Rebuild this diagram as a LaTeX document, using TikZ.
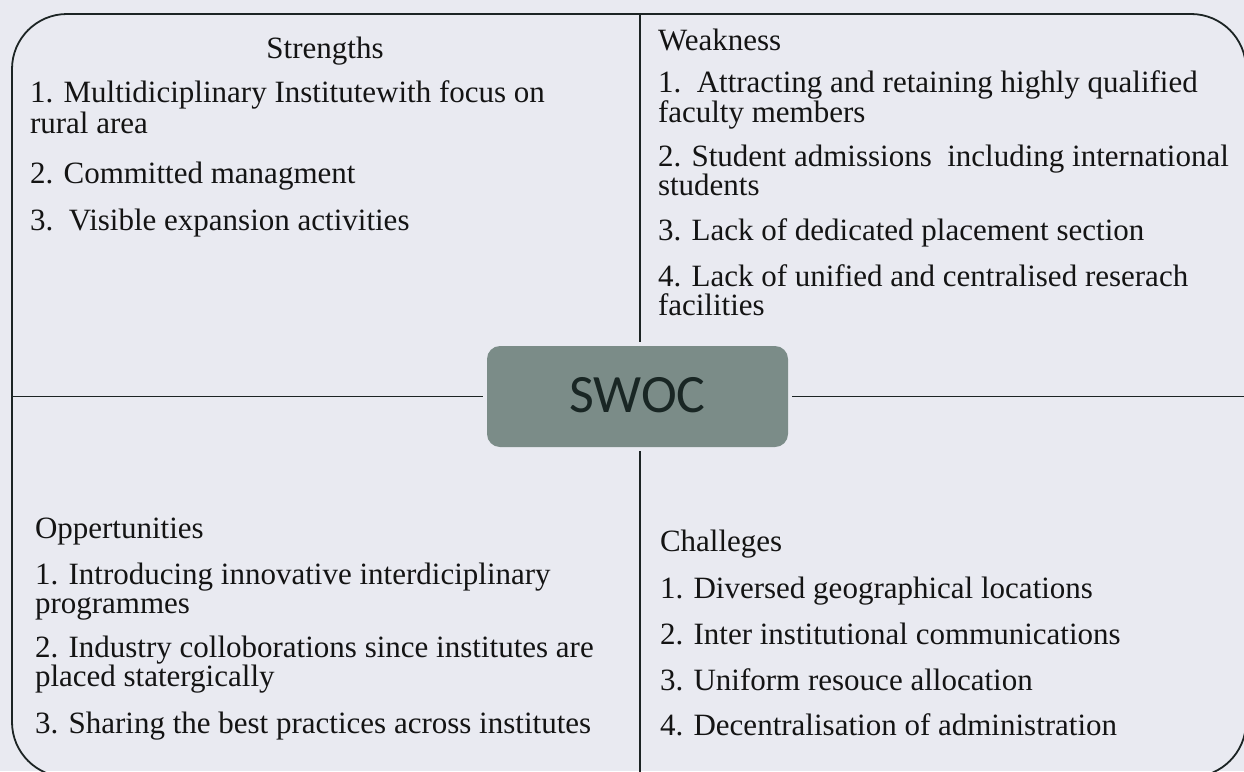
\documentclass[tikz,border=0pt]{standalone}
\usepackage{fontspec}
\setmainfont{Liberation Serif}
\newfontfamily\swocfont{Carlito}
\definecolor{bgc}{HTML}{E9EAF1}
\definecolor{ink}{HTML}{141414}
\definecolor{framec}{HTML}{1C2424}
\definecolor{boxc}{HTML}{7B8C88}
\definecolor{boxtext}{HTML}{192624}
\tikzset{
  txt/.style={anchor=base west, inner sep=0pt, outer sep=0pt, text height=21pt, text depth=5pt, text=ink, font=\fontsize{31}{29}\selectfont},
  ttl/.style={anchor=base, inner sep=0pt, outer sep=0pt, text height=21pt, text depth=5pt, text=ink, font=\fontsize{31}{29}\selectfont},
  divider/.style={draw=framec, line width=1.8pt},
  swocbox/.style={fill=boxc, rounded corners=13pt, minimum width=301pt, minimum height=101pt, inner sep=0pt, outer sep=4pt, text=boxtext, font=\swocfont\fontsize{54}{54}\selectfont}
}
\begin{document}
\begin{tikzpicture}[x=1pt,y=-1pt]
\useasboundingbox (0,0) rectangle (1244,771);
\fill[bgc] (0,0) rectangle (1244,771);
\clip (0,0) rectangle (1244,771);
% frame
\draw[divider, rounded corners=55pt] (12,14) rectangle (1246,777);
% coordinates for dividers
\coordinate (dtop) at (640,14);
\coordinate (dbot) at (640,777);
\coordinate (dleft) at (12,396.5);
\coordinate (dright) at (1246,396.5);
% centre box
\node[swocbox] (swoc) at (637.5,396.5) {\raisebox{3pt}{SWOC}};
\draw[divider] (dtop) -- (dtop |- swoc.north);
\draw[divider] (dbot |- swoc.south) -- (dbot);
\draw[divider] (dleft) -- (swoc.west);
\draw[divider] (swoc.east) -- (dright);
% Strengths
\node[ttl] (s0) at (325,58) {Strengths};
\node[txt] (s1a) at (30,102) {1. Multidiciplinary Institutewith focus on};
\node[txt] (s1b) at (30,133) {rural area};
\node[txt] (s2) at (30,183) {2. Committed managment};
\node[txt] (s3) at (30,230) {3.\ \ Visible expansion activities};
% Weakness
\node[txt] (w0) at (658,50) {Weakness};
\node[txt] (w1a) at (658,92) {1.\ \ Attracting and retaining highly qualified};
\node[txt] (w1b) at (658,122) {faculty members};
\node[txt] (w2a) at (658,166) {2. Student admissions\ \ including international};
\node[txt] (w2b) at (658,195) {students};
\node[txt] (w3) at (658,240) {3. Lack of dedicated placement section};
\node[txt] (w4a) at (658,286) {4. Lack of unified and centralised reserach};
\node[txt] (w4b) at (658,315) {facilities};
% Oppertunities
\node[txt] (o0) at (35,538) {Oppertunities};
\node[txt] (o1a) at (35,584) {1. Introducing innovative interdiciplinary};
\node[txt] (o1b) at (35,613) {programmes};
\node[txt] (o2a) at (35,657) {2. Industry colloborations since institutes are};
\node[txt] (o2b) at (35,686) {placed statergically};
\node[txt] (o3) at (35,733) {3. Sharing the best practices across institutes};
% Challeges
\node[txt] (c0) at (660,551) {Challeges};
\node[txt] (c1) at (660,598) {1. Diversed geographical locations};
\node[txt] (c2) at (660,644) {2. Inter institutional communications};
\node[txt] (c3) at (660,690) {3. Uniform resouce allocation};
\node[txt] (c4) at (660,735) {4. Decentralisation of administration};
\end{tikzpicture}
\end{document}
